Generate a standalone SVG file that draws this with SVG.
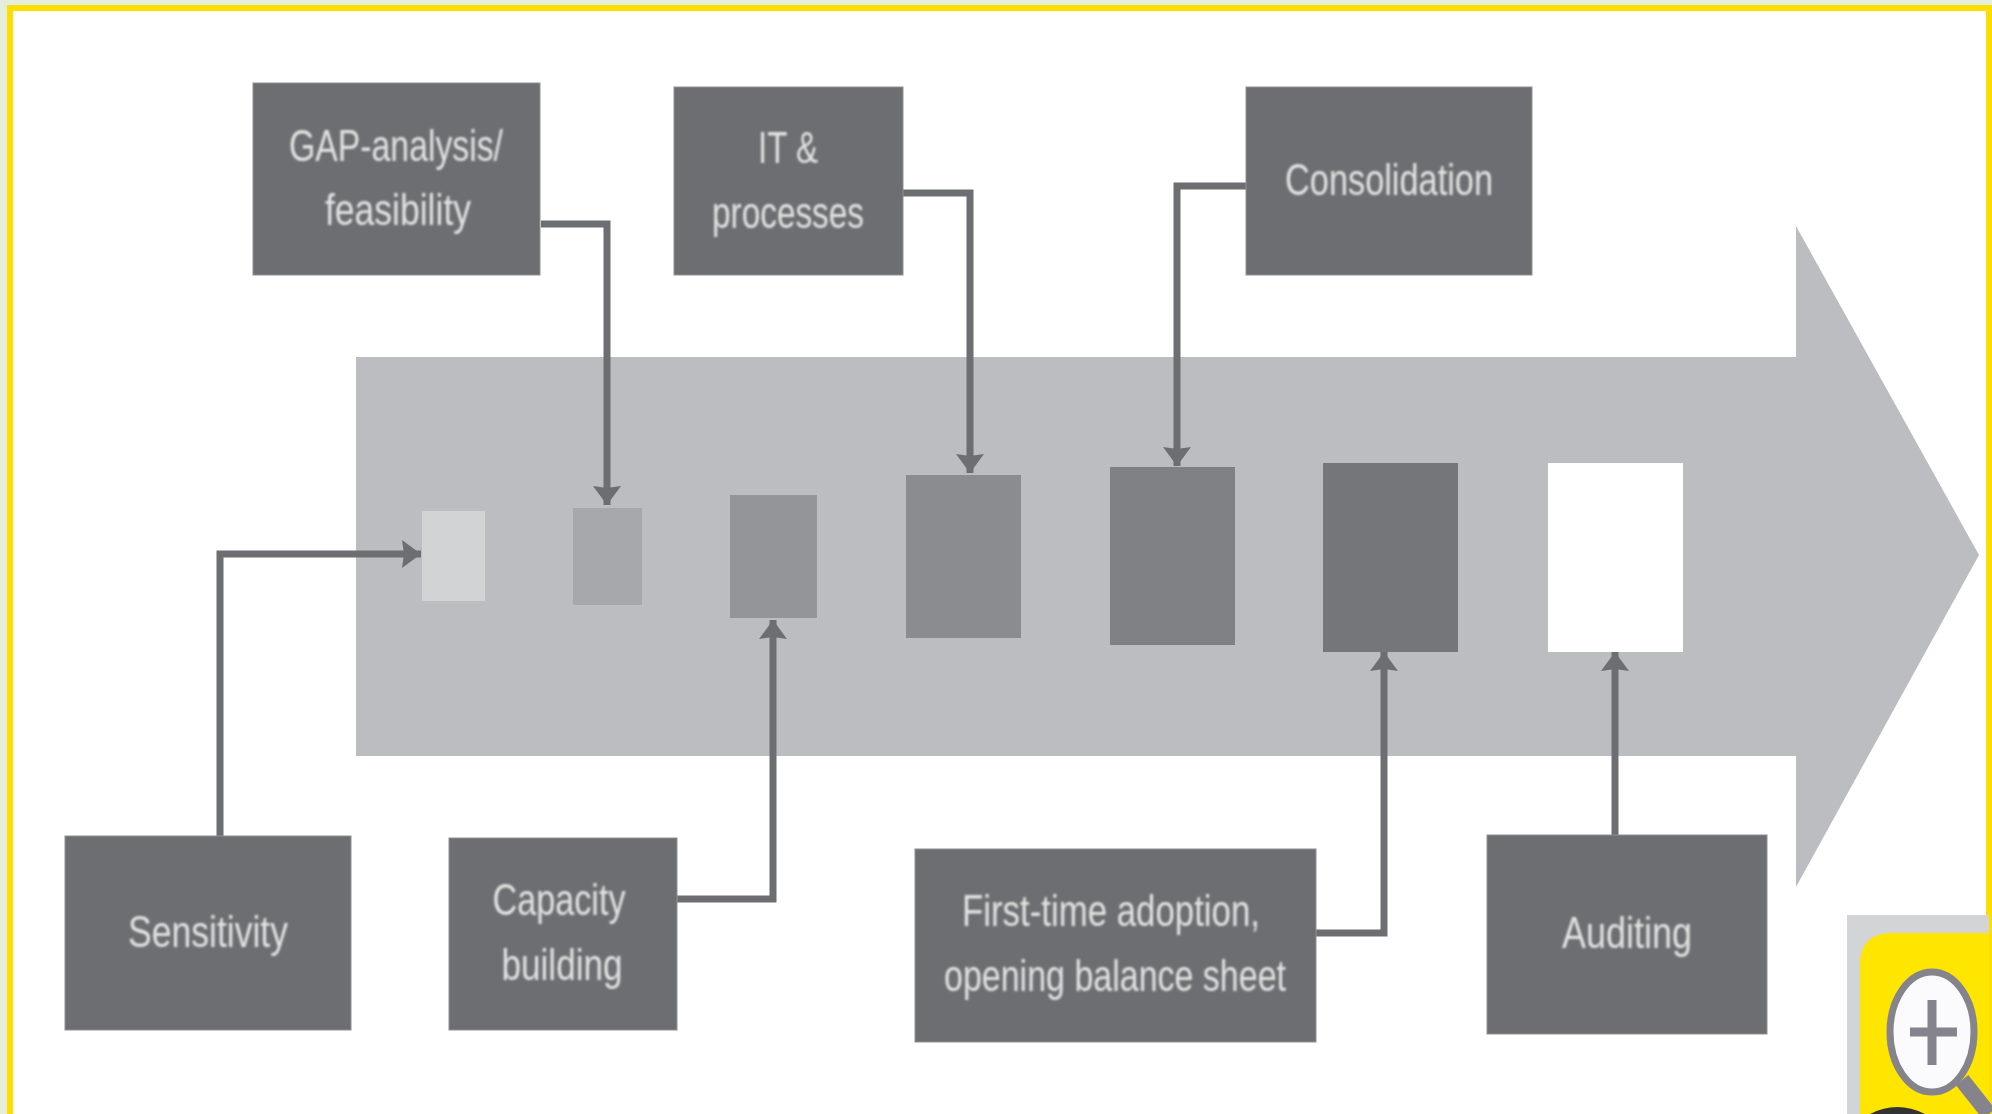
<svg xmlns="http://www.w3.org/2000/svg" width="1992" height="1114" viewBox="0 0 1992 1114">
<defs>
<marker id="ah" markerUnits="userSpaceOnUse" markerWidth="30" markerHeight="30" refX="20" refY="14" orient="auto"><path d="M1 0 L3 14 L1 28 L20 14 Z" fill="#6d6e71"/></marker>
<filter id="soft" x="-5%" y="-10%" width="110%" height="120%"><feGaussianBlur stdDeviation="0.8"/></filter>
</defs>
<style>
.box{fill:#6d6e71;stroke:#8f9093;stroke-width:1}
.t{font-family:"Liberation Sans",Arial,sans-serif;font-size:45px;fill:#e2e2e2;text-anchor:middle;filter:url(#soft)}
.c{fill:none;stroke:#6d6e71;stroke-width:7;marker-end:url(#ah)}
</style>
<rect width="1992" height="1114" fill="#e3eedb"/>
<rect x="10" y="8" width="1979" height="1110" fill="#fff" stroke="#ffdd00" stroke-width="6"/>
<g id="main-arrow"><path d="M356 357 H1796 V226 L1979 555 L1796 887 V756 H356 Z" fill="#bcbdc0"/></g>
<g id="stage-1"><rect x="422" y="511" width="63" height="90" fill="#d2d3d5"/></g>
<g id="stage-2"><rect x="573" y="508" width="69" height="97" fill="#a7a8ab"/></g>
<g id="stage-3"><rect x="730" y="495" width="87" height="123" fill="#939598"/></g>
<g id="stage-4"><rect x="906" y="475" width="115" height="163" fill="#8b8c8f"/></g>
<g id="stage-5"><rect x="1110" y="467" width="125" height="178" fill="#808185"/></g>
<g id="stage-6"><rect x="1323" y="463" width="135" height="189" fill="#75767a"/></g>
<g id="stage-7"><rect x="1548" y="463" width="135" height="189" fill="#fff"/></g>
<g id="connectors">
<path class="c" d="M541 224 H607 V505"/>
<path class="c" d="M903 193 H970 V473"/>
<path class="c" d="M1246 186 H1177 V466"/>
<path class="c" d="M220 836 V554 H421"/>
<path class="c" d="M677 899 H773 V620"/>
<path class="c" d="M1316 933 H1384 V652"/>
<path class="c" d="M1615 835 V652"/>
</g>
<g id="gap"><rect class="box" x="253" y="83" width="287" height="192"/><text class="t" x="396" y="161" textLength="214" lengthAdjust="spacingAndGlyphs">GAP-analysis/</text><text class="t" x="398" y="225" textLength="146" lengthAdjust="spacingAndGlyphs">feasibility</text></g>
<g id="it"><rect class="box" x="674" y="87" width="229" height="188"/><text class="t" x="788" y="163" textLength="60" lengthAdjust="spacingAndGlyphs">IT &amp;</text><text class="t" x="788" y="228" textLength="152" lengthAdjust="spacingAndGlyphs">processes</text></g>
<g id="consolidation"><rect class="box" x="1246" y="87" width="286" height="188"/><text class="t" x="1389" y="195" textLength="208" lengthAdjust="spacingAndGlyphs">Consolidation</text></g>
<g id="sensitivity"><rect class="box" x="65" y="836" width="286" height="194"/><text class="t" x="208" y="947" textLength="160" lengthAdjust="spacingAndGlyphs">Sensitivity</text></g>
<g id="capacity"><rect class="box" x="449" y="838" width="228" height="192"/><text class="t" x="559" y="915" textLength="133" lengthAdjust="spacingAndGlyphs">Capacity</text><text class="t" x="562" y="980" textLength="121" lengthAdjust="spacingAndGlyphs">building</text></g>
<g id="first-time"><rect class="box" x="915" y="849" width="401" height="193"/><text class="t" x="1111" y="926" textLength="298" lengthAdjust="spacingAndGlyphs">First-time adoption,</text><text class="t" x="1115" y="991" textLength="342" lengthAdjust="spacingAndGlyphs">opening balance sheet</text></g>
<g id="auditing"><rect class="box" x="1487" y="835" width="280" height="199"/><text class="t" x="1627" y="948" textLength="130" lengthAdjust="spacingAndGlyphs">Auditing</text></g>
<g id="zoom-badge">
<path d="M1847 1114 V915 H1989 V1114 Z" fill="#d3d4d6"/>
<path d="M1860 1114 V965 Q1860 933 1892 933 H1989 V1114 Z" fill="#ffe600"/>
<path d="M1962 1080 L1989 1114" stroke="#85848c" stroke-width="16" fill="none"/>
<ellipse cx="1932" cy="1032" rx="42" ry="60" fill="#fbfbfd" stroke="#85848c" stroke-width="7"/>
<path d="M1910 1032 H1957 M1932 1000 V1065" stroke="#85848c" stroke-width="9" fill="none"/>
<path d="M1870 1114 Q1897 1100 1925 1114 Z" fill="#333"/>
</g>
</svg>
